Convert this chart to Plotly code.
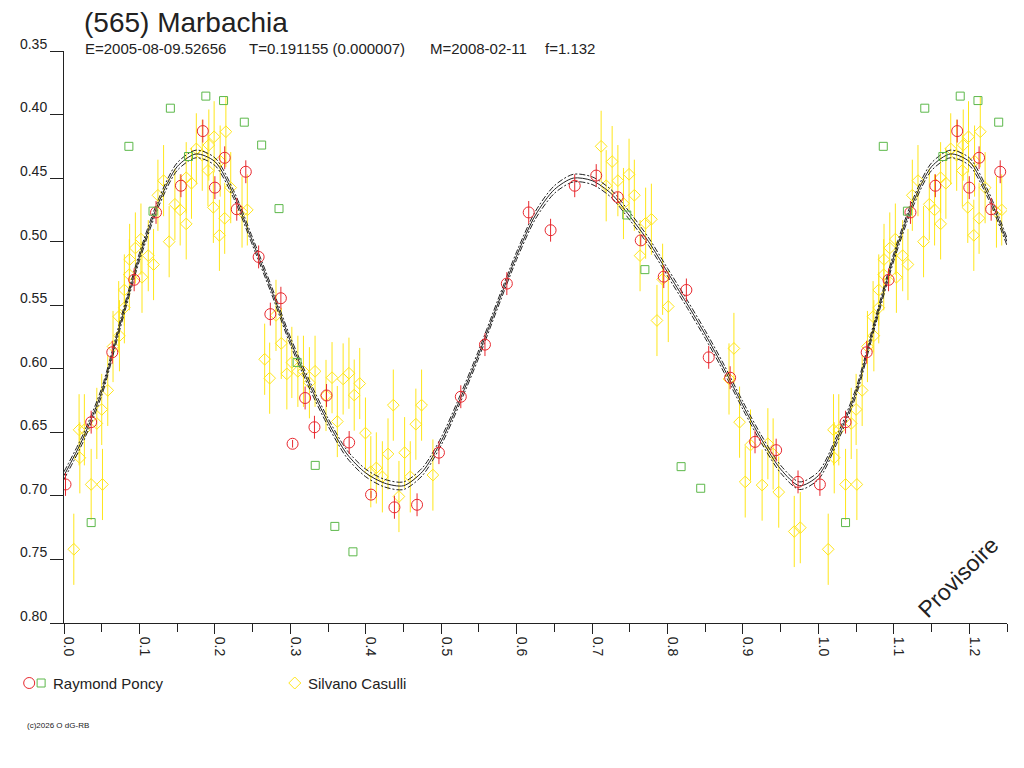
import plotly.graph_objects as go

# --- data (phase, reduced magnitude) ---
poncy_phase = [0.002, 0.036, 0.064, 0.093, 0.122, 0.155, 0.184, 0.200, 0.213, 0.229,
               0.241, 0.258, 0.2735, 0.2875, 0.303, 0.3196, 0.332, 0.348, 0.378, 0.407,
               0.438, 0.468, 0.497, 0.526, 0.558, 0.587, 0.616, 0.645, 0.677, 0.7055,
               0.734, 0.7645, 0.795, 0.825, 0.8546, 0.883, 0.916, 0.944, 0.973]
poncy_mag = [0.691, 0.642, 0.587, 0.530, 0.477, 0.456, 0.413, 0.4575, 0.434, 0.4745,
             0.445, 0.512, 0.557, 0.5445, 0.659, 0.623, 0.646, 0.621, 0.658, 0.699,
             0.709, 0.707, 0.666, 0.622, 0.581, 0.533, 0.477, 0.491, 0.456, 0.448,
             0.465, 0.499, 0.5275, 0.538, 0.591, 0.607, 0.6575, 0.664, 0.689]
poncy_err = [0.009, 0.009, 0.009, 0.009, 0.009, 0.009, 0.009, 0.009, 0.009, 0.009,
             0.009, 0.009, 0.009, 0.009, 0.003, 0.009, 0.009, 0.009, 0.009, 0.003,
             0.009, 0.009, 0.009, 0.009, 0.009, 0.009, 0.009, 0.009, 0.009, 0.009,
             0.004, 0.004, 0.009, 0.009, 0.009, 0.009, 0.009, 0.009, 0.009]

poncy2_phase = [0.036, 0.086, 0.118, 0.141, 0.165, 0.188, 0.2115, 0.239, 0.262, 0.285,
                0.309, 0.333, 0.359, 0.383, 0.746, 0.770, 0.818, 0.844]
poncy2_mag = [0.721, 0.425, 0.476, 0.395, 0.433, 0.3855, 0.389, 0.406, 0.424, 0.474,
              0.595, 0.676, 0.724, 0.744, 0.479, 0.522, 0.677, 0.694]

casulli_phase = [0.013, 0.020, 0.027, 0.021, 0.036, 0.0435, 0.051, 0.050, 0.058, 0.065,
                 0.0735, 0.0725, 0.080, 0.080, 0.0866, 0.087, 0.0946, 0.102, 0.1034, 0.1117,
                 0.1187, 0.1245, 0.132, 0.1394, 0.147, 0.154, 0.162, 0.162, 0.169, 0.1754,
                 0.1833, 0.1908, 0.192, 0.199, 0.198, 0.206, 0.207, 0.2146, 0.213, 0.221,
                 0.236, 0.243, 0.266, 0.2726, 0.281, 0.288, 0.2954, 0.302, 0.310, 0.3174,
                 0.3253, 0.3328, 0.3473, 0.3553, 0.3623, 0.370, 0.3777, 0.3847, 0.392, 0.3996,
                 0.4067, 0.414, 0.422, 0.4295, 0.4365, 0.444, 0.4515, 0.459, 0.4664, 0.474,
                 0.489, 0.712, 0.7187, 0.7266, 0.7342, 0.7416, 0.749, 0.756, 0.7636, 0.771,
                 0.7786, 0.786, 0.7935, 0.801, 0.8815, 0.888, 0.8955, 0.903, 0.910, 0.9254,
                 0.933, 0.940, 0.9474, 0.968, 0.976]
casulli_mag = [0.742, 0.648, 0.648, 0.670, 0.691, 0.643, 0.691, 0.632, 0.617, 0.5825,
               0.574, 0.559, 0.552, 0.538, 0.526, 0.514, 0.505, 0.498, 0.528, 0.511,
               0.518, 0.4635, 0.452, 0.500, 0.4706, 0.475, 0.486, 0.4497, 0.454, 0.427,
               0.432, 0.444, 0.424, 0.4175, 0.473, 0.495, 0.4366, 0.4135, 0.4816, 0.4575,
               0.4767, 0.475, 0.5925, 0.6074, 0.558, 0.580, 0.604, 0.595, 0.602, 0.602,
               0.611, 0.602, 0.621, 0.607, 0.6415, 0.608, 0.6035, 0.6207, 0.6116, 0.6506,
               0.681, 0.678, 0.685, 0.667, 0.6286, 0.7005, 0.666, 0.685, 0.6436, 0.6286,
               0.6836, 0.425, 0.456, 0.437, 0.452, 0.470, 0.447, 0.4635, 0.511, 0.4855,
               0.4824, 0.562, 0.5296, 0.551, 0.608, 0.584, 0.642, 0.689, 0.660, 0.6915,
               0.659, 0.667, 0.697, 0.728, 0.725]
casulli_err = 0.028

# fitted curve and its envelope, sampled every 0.025 in phase
fit_phase = [0.000, 0.025, 0.050, 0.075, 0.100, 0.125, 0.150, 0.175, 0.200, 0.225,
             0.250, 0.275, 0.300, 0.325, 0.350, 0.375, 0.400, 0.425, 0.450, 0.475,
             0.500, 0.525, 0.550, 0.575, 0.600, 0.625, 0.650, 0.675, 0.700, 0.725,
             0.750, 0.775, 0.800, 0.825, 0.850, 0.875, 0.900, 0.925, 0.950, 0.975, 1.000]
fit_mag = [0.684, 0.655, 0.618, 0.564, 0.512, 0.470, 0.441, 0.431, 0.437, 0.463,
           0.500, 0.538, 0.578, 0.612, 0.642, 0.667, 0.682, 0.690, 0.692, 0.681,
           0.657, 0.624, 0.588, 0.549, 0.511, 0.479, 0.459, 0.450, 0.452, 0.462,
           0.480, 0.500, 0.524, 0.548, 0.573, 0.600, 0.629, 0.656, 0.679, 0.692, 0.684]
fit_hi = [0.681, 0.652, 0.615, 0.561, 0.509, 0.467, 0.438, 0.428, 0.434, 0.460,
          0.497, 0.535, 0.575, 0.609, 0.639, 0.664, 0.679, 0.687, 0.689, 0.678,
          0.654, 0.621, 0.585, 0.546, 0.508, 0.476, 0.456, 0.447, 0.449, 0.459,
          0.477, 0.497, 0.521, 0.545, 0.570, 0.597, 0.626, 0.653, 0.676, 0.689, 0.681]
fit_lo = [0.687, 0.658, 0.621, 0.567, 0.515, 0.473, 0.444, 0.434, 0.440, 0.466,
          0.503, 0.541, 0.581, 0.615, 0.645, 0.670, 0.685, 0.693, 0.695, 0.684,
          0.660, 0.627, 0.591, 0.552, 0.514, 0.482, 0.462, 0.453, 0.455, 0.465,
          0.483, 0.503, 0.527, 0.551, 0.576, 0.603, 0.632, 0.659, 0.682, 0.695, 0.687]

PHASE_MAX = 1.25
INK = "#222222"
RED = "#e8282e"
GREEN = "#5cb84a"
YELLOW = "#ffe61a"
FONT = "Liberation Sans"


def wrap(phase, *cols):
    # the chart repeats phases 0..0.25 after 1.0
    idx = [i for i, p in enumerate(phase) if p + 1 <= PHASE_MAX]
    out = [list(phase) + [phase[i] + 1 for i in idx]]
    for c in cols:
        out.append(list(c) + [c[i] for i in idx])
    return out


# page pixel -> paper coordinates (plot area spans x 59..1007, y 51..623 on the page)
def px(x):
    return (x - 59) / 948


def py(y):
    return (623 - y) / 572


fig = go.Figure()

cx, cy = wrap(casulli_phase, casulli_mag)
fig.add_trace(go.Scatter(x=cx, y=cy, mode="markers",
                         marker=dict(symbol="diamond-open", size=9, color=YELLOW, line=dict(width=1)),
                         error_y=dict(type="constant", value=casulli_err, thickness=1, width=0, color=YELLOW)))

fx = fit_phase + [p + 1 for p in fit_phase[1:11]]
for ys, dash in ((fit_hi, "6px,2px,2px,2px"), (fit_lo, "6px,2px,2px,2px"), (fit_mag, "solid")):
    fig.add_trace(go.Scatter(x=fx, y=list(ys) + list(ys[1:11]), mode="lines",
                             line=dict(color=INK, width=1, dash=dash, shape="spline", smoothing=0.8)))

rx, ry, re = wrap(poncy_phase, poncy_mag, poncy_err)
fig.add_trace(go.Scatter(x=rx, y=ry, mode="markers",
                         marker=dict(symbol="circle-open", size=11, color=RED, line=dict(width=1)),
                         error_y=dict(type="data", array=re, thickness=1, width=0, color=RED)))

gx, gy = wrap(poncy2_phase, poncy2_mag)
fig.add_trace(go.Scatter(x=gx, y=gy, mode="markers",
                         marker=dict(symbol="square-open", size=8, color=GREEN, line=dict(width=1))))

notes = [
    ("(565) Marbachia", 77, 22, 28),
    ("E=2005-08-09.52656", 78, 48, 15),
    ("T=0.191155 (0.000007)", 243, 48, 15),
    ("M=2008-02-11", 425, 48, 15),
    ("f=1.132", 541, 48, 15),
    ("Raymond Poncy", 46, 683, 15),
    ("Silvano Casulli", 302, 683, 15),
    ("(c)2026 O dG-RB", 20, 725, 8),
]
for text, x, y, size in notes:
    fig.add_annotation(text=text, x=px(x), y=py(y), xref="paper", yref="paper",
                       xanchor="left", yanchor="middle", showarrow=False,
                       font=dict(family=FONT, size=size, color=INK))

fig.add_annotation(text="Provisoire", x=px(958), y=py(577), xref="paper", yref="paper",
                   xanchor="center", yanchor="middle", showarrow=False, textangle=-45,
                   font=dict(family=FONT, size=23, color=INK))

# legend glyphs
fig.add_shape(type="circle", xref="paper", yref="paper", xsizemode="pixel", ysizemode="pixel",
              xanchor=px(24), yanchor=py(683), x0=-5.5, x1=5.5, y0=-5.5, y1=5.5,
              line=dict(color=RED, width=1))
fig.add_shape(type="rect", xref="paper", yref="paper", xsizemode="pixel", ysizemode="pixel",
              xanchor=px(36), yanchor=py(683), x0=-4, x1=4, y0=-4, y1=4,
              line=dict(color=GREEN, width=1))
fig.add_shape(type="path", xref="paper", yref="paper", xsizemode="pixel", ysizemode="pixel",
              xanchor=px(291), yanchor=py(683), path="M -6 0 L 0 6 L 6 0 L 0 -6 Z",
              line=dict(color=YELLOW, width=1))

fig.update_xaxes(range=[0, PHASE_MAX], dtick=0.1, tick0=0, tickformat=".1f", tickangle=90,
                 ticks="outside", ticklen=10, tickcolor=INK, ticklabelshift=5,
                 minor=dict(dtick=0.05, ticks="outside", ticklen=8, tickcolor=INK),
                 showline=True, linecolor=INK, linewidth=1, showgrid=False, zeroline=False,
                 tickfont=dict(family=FONT, size=14, color=INK))
fig.update_yaxes(range=[0.80, 0.35], dtick=0.05, tick0=0.35, tickformat=".2f",
                 ticks="outside", ticklen=13, tickcolor=INK, ticklabelshift=7,
                 showline=True, linecolor=INK, linewidth=1, showgrid=False, zeroline=False,
                 tickfont=dict(family=FONT, size=14, color=INK))

# the page body has an 8px margin, so the figure is 8px smaller and offset
fig.update_layout(width=1016, height=760, showlegend=False,
                  margin=dict(l=51, r=17, t=43, b=145),
                  paper_bgcolor="white", plot_bgcolor="white",
                  font=dict(family=FONT, color=INK))

fig.write_html("out.html")
